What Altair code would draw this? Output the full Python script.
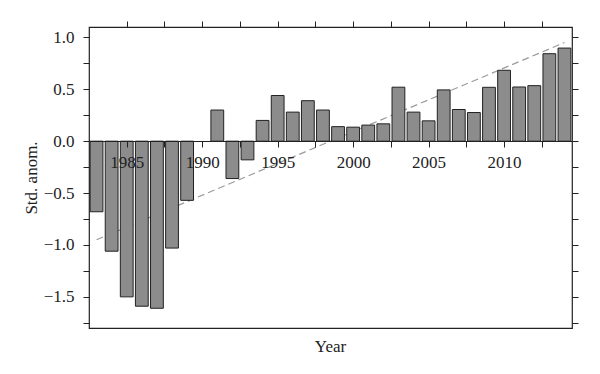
import altair as alt
import pandas as pd

years = [1983, 1984, 1985, 1986, 1987, 1988, 1989,
         1991, 1992, 1993, 1994, 1995, 1996, 1997, 1998, 1999,
         2000, 2001, 2002, 2003, 2004, 2005, 2006, 2007, 2008, 2009,
         2010, 2011, 2012, 2013, 2014]
anom = [-0.68, -1.06, -1.50, -1.59, -1.61, -1.03, -0.57,
        0.30, -0.36, -0.18, 0.20, 0.44, 0.28, 0.39, 0.30, 0.14,
        0.135, 0.155, 0.167, 0.52, 0.28, 0.196, 0.494, 0.305, 0.276, 0.519,
        0.683, 0.522, 0.535, 0.843, 0.897]

trend_years = [1983, 2014]
trend_vals = [-0.95, 0.95]

x_ticks = [1985, 1987.5, 1990, 1992.5, 1995, 1997.5, 2000, 2002.5,
           2005, 2007.5, 2010, 2012.5]
y_ticks = [-1.75, -1.5, -1.25, -1.0, -0.75, -0.5, -0.25, 0.0,
           0.25, 0.5, 0.75, 1.0]

FONT = "Liberation Serif"
INK = "#222222"
FS = 17

bars_df = pd.DataFrame({"year": years, "anom": anom})
trend_df = pd.DataFrame({"year": trend_years, "anom": trend_vals})

xs = alt.Scale(domain=[1982.5, 2014.5], nice=False, zero=False)
ys = alt.Scale(domain=[-1.8, 1.1], nice=False, zero=False)

line = alt.Chart(trend_df).mark_line(
    color="#9a9a9a", strokeDash=[7, 4], strokeWidth=1.2
).encode(
    x=alt.X("year:Q", scale=xs,
            axis=alt.Axis(orient="top", values=x_ticks, labels=False,
                          domain=False, ticks=True, tickSize=6,
                          tickColor=INK, title=None, grid=False)),
    y=alt.Y("anom:Q", scale=ys,
            axis=alt.Axis(orient="right", values=y_ticks, labels=False,
                          domain=False, ticks=True, tickSize=6,
                          tickColor=INK, title=None, grid=False)),
)

bars = alt.Chart(bars_df).transform_calculate(
    x0="datum.year - 0.424", x1="datum.year + 0.424"
).mark_bar(fill="#8c8c8c", stroke=INK, strokeWidth=1).encode(
    x=alt.X("x0:Q", scale=xs,
            axis=alt.Axis(orient="bottom", offset=-187, values=x_ticks,
                          labelExpr="datum.value % 5 === 0 ? format(datum.value, 'd') : ''",
                          tickSize=6, tickColor=INK, domain=True,
                          domainColor=INK, domainWidth=1.2,
                          labelPadding=7.5, title=None, grid=False,
                          zindex=1)),
    x2="x1:Q",
    y=alt.Y("anom:Q", scale=ys,
            axis=alt.Axis(orient="left", values=y_ticks,
                          labelExpr="abs(datum.value * 2 - round(datum.value * 2)) < 0.001 ? format(datum.value, '.1f') : ''",
                          tickSize=6, tickColor=INK, domain=False,
                          labelPadding=9, title="Std. anom.",
                          titlePadding=3, grid=False)),
    y2=alt.datum(0),
)

chart = alt.layer(line, bars).resolve_axis(
    x="independent", y="independent"
).properties(
    width=483,
    height=301,
    padding={"left": 81, "top": 19, "right": 20, "bottom": 30},
    autosize="none",
    title=alt.TitleParams(text="Year", orient="bottom", font=FONT,
                          fontSize=FS, fontWeight="normal", color=INK,
                          offset=11, anchor="middle"),
).configure_view(
    stroke=INK, strokeWidth=1.2
).configure_axis(
    labelFont=FONT, labelFontSize=FS, labelColor=INK,
    titleFont=FONT, titleFontSize=FS, titleFontWeight="normal",
    titleColor=INK,
)

chart.save("out.html", embed_options={"renderer": "svg", "actions": False})
